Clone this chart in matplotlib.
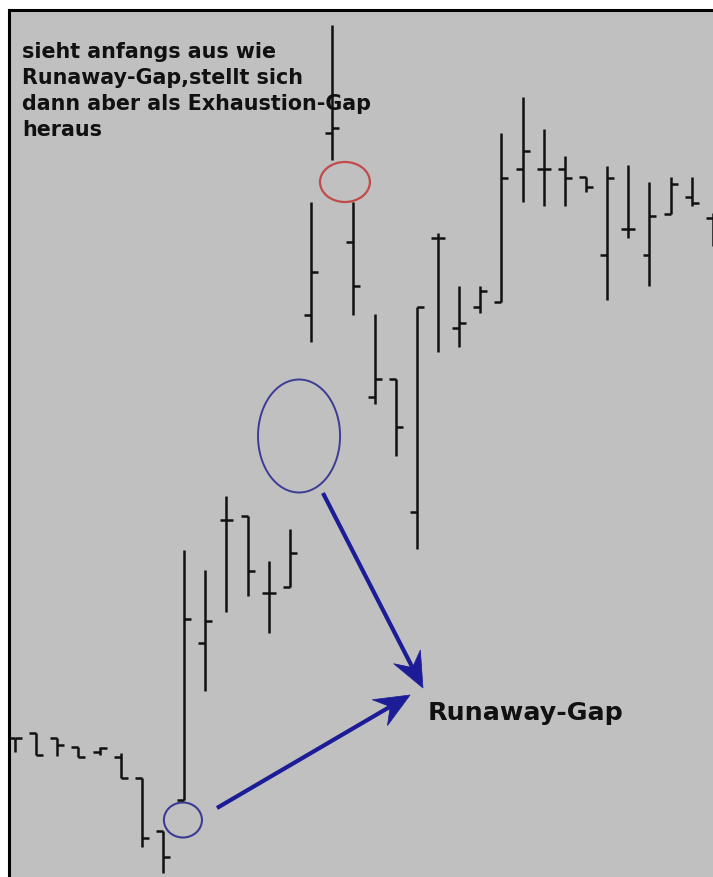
import numpy as np
import matplotlib
matplotlib.use('Agg')
import matplotlib.pyplot as plt
from matplotlib.patches import Ellipse, Polygon

# OHLC bars (price in chart points, one bar per session)
opens = [139, 144, 139, 130, 125, 120, 99, 46, 77, 234, 357, 361, 284, 290, 562, 744, 635,
         480, 498, 365, 639, 549, 570, 575, 708, 708, 708, 700, 622, 648, 622, 663, 680, 659]
highs = [139, 144, 139, 130, 130, 124, 99, 46, 327, 307, 381, 361, 316, 348, 675, 852, 675,
         563, 498, 570, 644, 591, 591, 744, 780, 748, 721, 700, 711, 712, 695, 700, 700, 664]
lows = [125, 122, 121, 120, 122, 99, 30, 4, 77, 186, 265, 281, 244, 290, 535, 717, 562,
        473, 421, 328, 525, 530, 564, 575, 675, 671, 671, 685, 577, 639, 591, 663, 671, 631]
closes = [139, 122, 132, 120, 129, 99, 39, 20, 258, 256, 357, 306, 284, 324, 605, 749, 591,
          498, 450, 570, 639, 554, 586, 699, 726, 708, 699, 690, 699, 648, 661, 693, 674, 647]

note_text = ["sieht anfangs aus wie", "Runaway-Gap,stellt sich",
             "dann aber als Exhaustion-Gap", "heraus"]
gap_label = "Runaway-Gap"

W, H = 713, 877
fig = plt.figure(figsize=(W / 100, H / 100), dpi=100, facecolor='white')
ax = fig.add_axes([9 / W, 0, (W - 9) / W, (H - 10) / H])
ax.set_facecolor('#c0c0c0')

x = np.arange(len(opens))
px_per_bar = 21.15
xmin = -6 / px_per_bar
ax.set_xlim(xmin, xmin + (W - 9) / px_per_bar)
ax.set_ylim(0, H - 10)

tick = 0.33
ax.vlines(x, lows, highs, color='#111111', lw=1.8)
ax.hlines(opens, x - tick, x, color='#111111', lw=1.8)
ax.hlines(closes, x, x + tick, color='#111111', lw=1.8)

for s in ['right', 'bottom']:
    ax.spines[s].set_visible(False)
for s in ['top', 'left']:
    ax.spines[s].set_linewidth(2.2)
    ax.spines[s].set_color('black')
ax.set_xticks([])
ax.set_yticks([])

# circles around the gaps
ax.add_patch(Ellipse((15.6, 695), 2.36, 40, fill=False, ec='#c24a4a', lw=1.6))
ax.add_patch(Ellipse((13.43, 441), 3.88, 113, fill=False, ec='#3c3c94', lw=1.4))
ax.add_patch(Ellipse((7.94, 57), 1.80, 35, fill=False, ec='#3c3c94', lw=1.5))


def arrow(start, end, color='#1c1c96'):
    tr = ax.transData
    p0 = np.array(tr.transform(start))
    p1 = np.array(tr.transform(end))
    d = p1 - p0
    u = d / np.hypot(*d)
    n = np.array([-u[1], u[0]])
    head_len, half_w, notch = 35, 15, 23
    base = p1 - head_len * u
    ax.plot([p0[0], (p1 - notch * u)[0]], [p0[1], (p1 - notch * u)[1]],
            color=color, lw=3.0, solid_capstyle='butt', transform=None)
    head = [p1, base + half_w * n, p1 - notch * u, base - half_w * n]
    ax.add_patch(Polygon(head, closed=True, fc=color, ec=color, lw=0.5, transform=None))


fig.canvas.draw()
arrow((14.56, 384), (19.29, 189))
arrow((9.55, 69), (18.68, 182))

fig.text(428 / W, 1 - 720 / H, gap_label, fontsize=18.3, fontweight='bold',
         family='DejaVu Sans', color='#111111', va='baseline', ha='left')

for i, line in enumerate(note_text):
    fig.text(22 / W, 1 - (58 + 26 * i) / H, line, fontsize=14.9, fontweight='bold',
             family='DejaVu Sans', color='#111111', va='baseline', ha='left')

fig.savefig('out.png', dpi=100, facecolor='white')
